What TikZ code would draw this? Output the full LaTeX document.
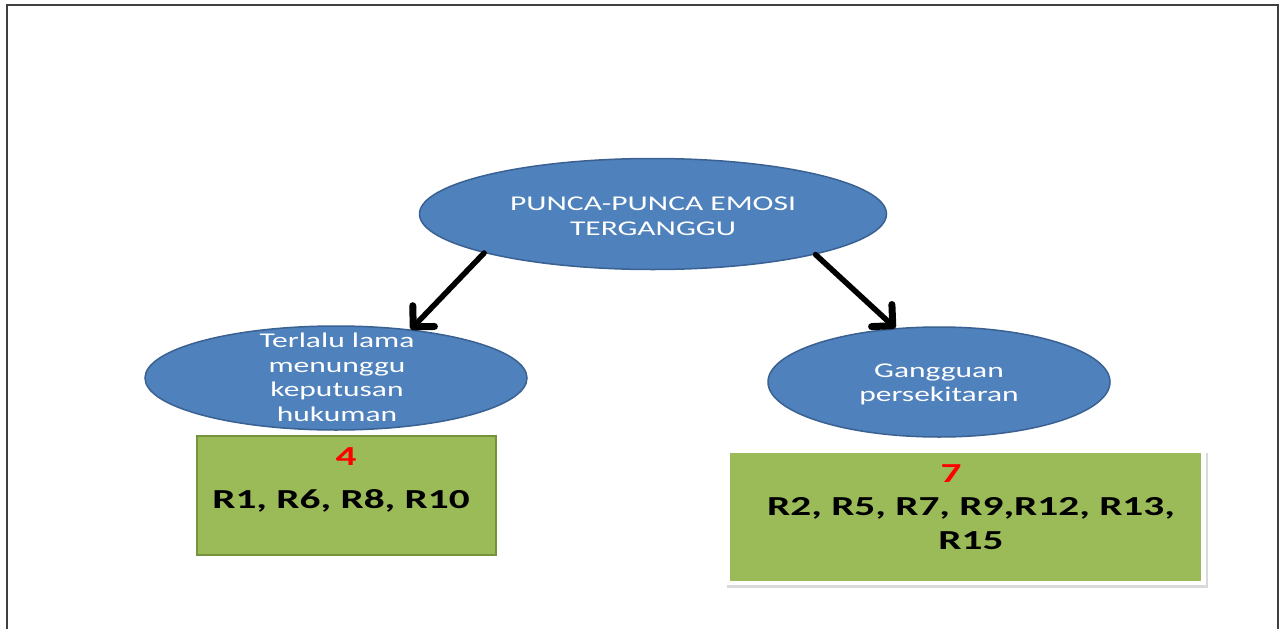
\documentclass[tikz,border=0pt]{standalone}
\usepackage{fontspec}
\usetikzlibrary{arrows.meta,shapes.geometric}
\newfontfamily\cfreg[FakeStretch=1.5]{Carlito}
\newfontfamily\cfbold[FakeStretch=1.5]{Carlito Bold}
\definecolor{elfill}{HTML}{4F81BD}
\definecolor{eldraw}{HTML}{3A6191}
\definecolor{boxfill}{HTML}{9BBB59}
\definecolor{boxdraw}{HTML}{76923C}
\definecolor{framec}{HTML}{404040}
\tikzset{
  bubble/.style={ellipse, fill=elfill, draw=eldraw, line width=1.5pt, inner sep=0pt},
  btext/.style={anchor=base, inner sep=0pt, text=white, font=\cfreg\fontsize{21}{24}\selectfont},
  rtext/.style={anchor=base, inner sep=0pt, text=black, font=\cfbold\fontsize{27.5}{32}\selectfont},
  ntext/.style={anchor=base, inner sep=0pt, text=red, font=\cfbold\fontsize{27.5}{32}\selectfont},
  arr/.style={line width=5.5pt, line cap=round, -{Straight Barb[length=15pt,width=30pt,round,line width=7pt 0]}}
}
\begin{document}
\begin{tikzpicture}[x=1pt,y=-1pt]
\useasboundingbox (0,0) rectangle (1285,629);
\fill[white] (0,0) rectangle (1285,629);
% frame
\draw[framec, line width=2pt] (7,629) -- (7,5) -- (1278,5) -- (1278,629);
% ellipses
\node[bubble, minimum width=467pt, minimum height=111pt] (top) at (653,214) {};
\node[bubble, minimum width=382pt, minimum height=104pt] (left) at (336,378) {};
\node[bubble, minimum width=342pt, minimum height=110pt] (right) at (939,382) {};
% ellipse texts
\node[btext] (t1) at (653,210) {PUNCA-PUNCA EMOSI};
\node[btext] (t2) at (653,235) {TERGANGGU};
\node[btext] (l1) at (337,347) {Terlalu lama};
\node[btext] (l2) at (337,372) {menunggu};
\node[btext] (l3) at (337,396) {keputusan};
\node[btext] (l4) at (337,421) {hukuman};
\node[btext] (r1) at (939,377) {Gangguan};
\node[btext] (r2) at (939,401) {persekitaran};
% arrows
\draw[arr] (top.193.5) -- (left.33);
\draw[arr] (top.346) -- (right.129);
% left box
\node[draw=boxdraw, fill=boxfill, line width=2pt, minimum width=299pt, minimum height=119pt, inner sep=0pt] (lbox) at (346.5,495.5) {};
\node[ntext] (n4) at (346,465) {4};
\node[rtext] (lr) at (341,508) {R1, R6, R8, R10};
% right box with shadow and white frame
\fill[black!15] (727,453) rectangle (1208,588);
\fill[white] (725,450) rectangle (1206,585);
\node[fill=boxfill, minimum width=471pt, minimum height=128pt, inner sep=0pt] (rbox) at (965.5,517) {};
\node[ntext] (n7) at (951,482) {7};
\node[rtext] (rr1) at (971,515) {R2, R5, R7, R9,R12, R13,};
\node[rtext] (rr2) at (971,549) {R15};
\end{tikzpicture}
\end{document}
